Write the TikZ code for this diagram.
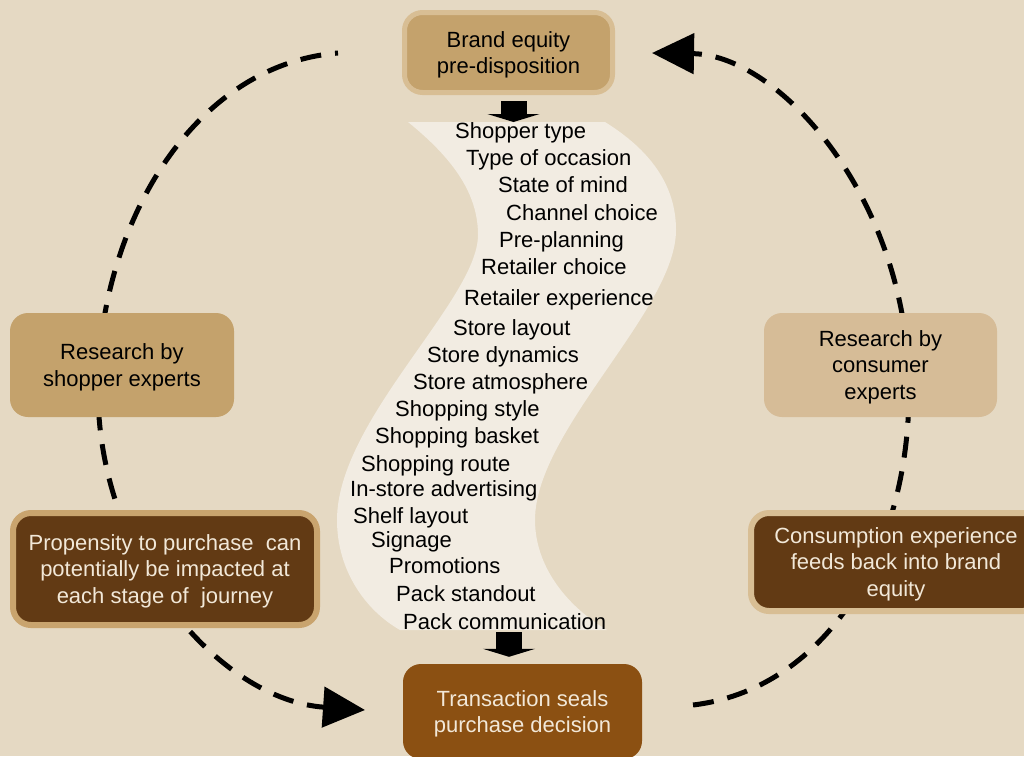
\documentclass[tikz,border=0pt]{standalone}
\usepackage{fontspec}
\setmainfont{Liberation Sans}
\usepackage{xcolor}
\usepackage{tikz}
\usetikzlibrary{arrows.meta,positioning}

\definecolor{journeybg}{HTML}{E5D9C3}
\definecolor{bandfill}{HTML}{F2ECE2}
\definecolor{tanfill}{HTML}{C4A26C}
\definecolor{tanrim}{HTML}{D8BE94}
\definecolor{sandfill}{HTML}{D6BC97}
\definecolor{brownfill}{HTML}{623A14}
\definecolor{brownrim}{HTML}{C9A46E}
\definecolor{rustfill}{HTML}{8B5012}
\definecolor{creamtext}{HTML}{F2E8D8}

\begin{document}
\begin{tikzpicture}[
    x=1pt, y=-1pt,
    font=\fontsize{22}{26.5}\selectfont,
    % rounded boxes round the loop
    box/.style={rounded corners=18pt, align=center, inner sep=0pt, text depth=-7.5pt},
    lightbox/.style={box, fill=tanfill, text=black},
    darkbox/.style={box, fill=brownfill, text=creamtext, line width=6pt},
    % stages on the shopper path
    pathitem/.style={anchor=base west, inner sep=0pt},
    % dashed loop and block arrows
    cycleline/.style={line width=5pt, dash pattern=on 21pt off 14pt,
      -{Triangle[length=42pt,width=40pt]}},
    blockarrow/.style={line width=26pt, -{Triangle[length=8pt,width=52pt]}},
  ]
  \useasboundingbox (0,0) rectangle (1024,756);
  \clip (0,0) rectangle (1024,756);
  \fill[journeybg] (0,0) rectangle (1024,756);

  % the winding shopper path
  \fill[bandfill] (408,122) .. controls (455,160) and (478,195) .. (478,235)
    .. controls (478,300) and (337,420) .. (337,520)
    .. controls (337,570) and (365,610) .. (400,630)
    -- (607,630)
    .. controls (565,605) and (535,565) .. (535,520)
    .. controls (535,430) and (676,310) .. (676,230)
    .. controls (676,185) and (650,150) .. (605,122) -- cycle;

  \foreach \lx/\ly/\ltext [count=\k] in {
      455/138.5/Shopper type, 466/165.5/Type of occasion,
      498/192.5/State of mind, 506/220.5/Channel choice,
      499/247.5/Pre-planning, 481/274.5/Retailer choice,
      464/305.5/Retailer experience, 453/335.5/Store layout,
      427/362.5/Store dynamics, 413/389.5/Store atmosphere,
      395/416.5/Shopping style, 375/443.5/Shopping basket,
      361/471.5/Shopping route, 350/496.5/In-store advertising,
      353/523.5/Shelf layout, 371/547.5/Signage,
      389/573.5/Promotions, 396/601.5/Pack standout,
      403/629.5/Pack communication}
    \node[pathitem] (stage\k) at (\lx,\ly) {\ltext};

  % dashed loop
  \coordinate (lefttop) at (338,53);
  \coordinate (leftmid) at (98,390);
  \coordinate (leftend) at (365,710);
  \draw[cycleline, dash phase=18pt] (lefttop) .. controls (190,65) and (98,230) .. (leftmid)
    .. controls (98,560) and (220,700) .. (leftend);
  \coordinate (rightstart) at (693,705);
  \coordinate (rightmid) at (909,390);
  \coordinate (rightend) at (652,53);
  \draw[cycleline] (rightstart) .. controls (820,690) and (909,560) .. (rightmid)
    .. controls (909,200) and (780,55) .. (rightend);

  \node[lightbox, draw=tanrim, line width=5pt, minimum width=208pt, minimum height=80pt]
    (brand) at (508.5,52.5) {Brand equity\\pre-disposition};
  \node[lightbox, minimum width=224pt, minimum height=104pt]
    (shopperres) at (122,365) {Research by\\shopper experts};
  \node[lightbox, fill=sandfill, minimum width=233pt, minimum height=104pt]
    (consumerres) at (880.5,365) {Research by\\consumer\\experts};
  \node[darkbox, draw=brownrim, minimum width=304pt, minimum height=112pt]
    (propensity) at (165,569) {Propensity to purchase~ can\\potentially be impacted at\\each stage of~ journey};
  \node[darkbox, draw=tanrim, minimum width=290pt, minimum height=98pt]
    (consumption) at (896,562) {Consumption experience\\feeds back into brand\\equity};
  \node[box, fill=rustfill, text=creamtext, minimum width=239pt, minimum height=95pt]
    (transaction) at (522.5,711.5) {Transaction seals\\purchase decision};

  % into and out of the path
  \coordinate (bandtop) at (513.5,122);
  \coordinate (bandfoot) at (509,632);
  \draw[blockarrow] ([yshift=-6pt]brand.south -| bandtop) -- (bandtop);
  \draw[blockarrow] (bandfoot) -- ([yshift=7pt]transaction.north -| bandfoot);
\end{tikzpicture}
\end{document}
